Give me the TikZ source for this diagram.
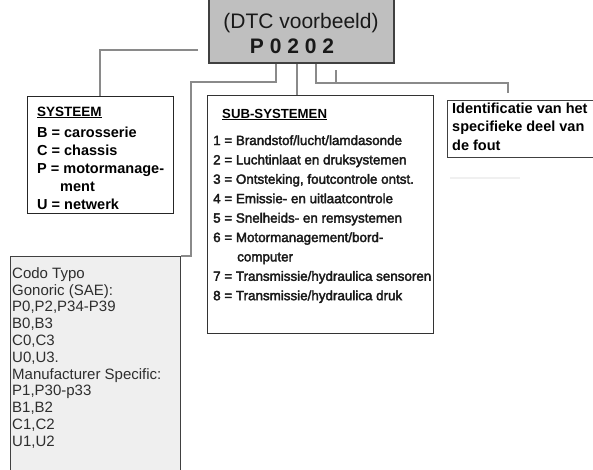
\documentclass[tikz,border=0pt]{standalone}
\usepackage{fontspec}
\setmainfont{Liberation Sans}
\newfontfamily\subfont{Liberation Sans}[FakeBold=2.5]
\definecolor{conngray}{HTML}{8A8A8A}
\definecolor{boxgray}{HTML}{BFBFBF}
\definecolor{codefill}{HTML}{EFEFEF}
\definecolor{codetext}{HTML}{2E2E2E}
\tikzset{
  conn/.style={draw=conngray, line width=1.3pt},
  frame/.style={draw=black!85, line width=1.4pt, fill=white, inner sep=0pt, anchor=north west},
  txt/.style={inner sep=0pt, anchor=base west},
  systxt/.style={txt, font=\fontsize{14.5}{17}\selectfont\bfseries},
  subtxt/.style={txt, font=\fontsize{13.4}{16}\subfont, text=black!90},
  codetxt/.style={txt, font=\fontsize{15}{17}\selectfont, text=codetext},
}
\begin{document}
\begin{tikzpicture}[x=1pt,y=-1pt]
\useasboundingbox (0,0) rectangle (593,469);
\clip (0,0) rectangle (593,469);
\fill[white] (0,0) rectangle (593,469);

% top DTC box
\node[draw=black!75, line width=1.6pt, fill=boxgray, inner sep=0pt, minimum width=185pt, minimum height=72pt, anchor=south west] (dtc) at (208,64) {};
\node[inner sep=0pt, anchor=base, font=\fontsize{21}{25}\selectfont, text=black!90] (dtc1) at (301,28) {(DTC voorbeeld)};
\node[inner sep=0pt, anchor=base, font=\fontsize{21}{25}\selectfont\bfseries, text=black!90] (dtc2) at (292,53) {P 0 2 0 2};

% boxes
\node[frame, minimum width=146pt, minimum height=117pt] (sys) at (27,96) {};
\node[frame, draw=black!80, minimum width=226pt, minimum height=238pt] (sub) at (207,95) {};
\node[frame, draw=black!75, line width=1.2pt, minimum width=160pt, minimum height=57pt] (ident) at (447,100) {};
\node[draw=black!75, line width=1pt, fill=codefill, inner sep=0pt, minimum width=170pt, minimum height=230pt, anchor=north west] (code) at (10,256) {};

% faint line under identification box
\draw[black!6, line width=1.5pt] (450,178) -- (520,178);

% connectors
\coordinate (a1) at (198,50);
\coordinate (a2) at (100,50);
\draw[conn] (a1) -- (a2) -- (a2 |- sys.north);

\coordinate (b1) at (276,64);
\coordinate (b2) at (276,82);
\coordinate (b3) at (191,82);
\coordinate (b4) at (191,256);
\draw[conn] (b1) -- (b2) -- (b3) -- (b4) -- (code.north east);

\coordinate (s1) at (297,64);
\draw[conn] (s1) -- (s1 |- sub.north);

\coordinate (d1) at (316,64);
\coordinate (d2) at (316,83);
\coordinate (d3) at (508,83);
\coordinate (d4) at (508,93);
\draw[conn] (d1) -- (d2) -- (d3) -- (d4);
\coordinate (e1) at (336,70);
\coordinate (e2) at (336,83);
\draw[conn] (e1) -- (e2);

% SYSTEEM text
\node[systxt, font=\fontsize{13.5}{16}\selectfont\bfseries] (sys0) at (37,116) {\underline{SYSTEEM}};
\node[systxt] (sys1) at (37,137) {B = carosserie};
\node[systxt] (sys2) at (37,155) {C = chassis};
\node[systxt] (sys3) at (37,173) {P = motormanage-};
\node[systxt] (sys4) at (60,191) {ment};
\node[systxt] (sys5) at (37,209) {U = netwerk};

% SUB-SYSTEMEN text
\node[txt, font=\fontsize{13.2}{16}\selectfont\bfseries] (sub0) at (222,118) {\underline{SUB-SYSTEMEN}};
\node[subtxt] (sub1) at (213,145) {1 = Brandstof/lucht/lamdasonde};
\node[subtxt] (sub2) at (213,164.4) {2 = Luchtinlaat en druksystemen};
\node[subtxt] (sub3) at (213,183.8) {3 = Ontsteking, foutcontrole ontst.};
\node[subtxt] (sub4) at (213,203.2) {4 = Emissie- en uitlaatcontrole};
\node[subtxt] (sub5) at (213,222.6) {5 = Snelheids- en remsystemen};
\node[subtxt] (sub6) at (213,242) {6 = Motormanagement/bord-};
\node[subtxt] (sub6b) at (237,261.4) {computer};
\node[subtxt] (sub7) at (213,280.8) {7 = Transmissie/hydraulica sensoren};
\node[subtxt] (sub8) at (213,300.2) {8 = Transmissie/hydraulica druk};

% Identificatie text
\node[systxt] (id1) at (452,113) {Identificatie van het};
\node[systxt] (id2) at (452,131.5) {specifieke deel van};
\node[systxt] (id3) at (452,150) {de fout};

% Code type text
\node[codetxt] (c1) at (12,278.3) {Codo Typo};
\node[codetxt] (c2) at (12,295.1) {Gonoric (SAE):};
\node[codetxt] (c3) at (12,311.9) {P0,P2,P34-P39};
\node[codetxt] (c4) at (12,328.7) {B0,B3};
\node[codetxt] (c5) at (12,345.5) {C0,C3};
\node[codetxt] (c6) at (12,362.3) {U0,U3.};
\node[codetxt] (c7) at (12,379.1) {Manufacturer Specific:};
\node[codetxt] (c8) at (12,395.9) {P1,P30-p33};
\node[codetxt] (c9) at (12,412.7) {B1,B2};
\node[codetxt] (c10) at (12,429.5) {C1,C2};
\node[codetxt] (c11) at (12,446.3) {U1,U2};
\end{tikzpicture}
\end{document}
